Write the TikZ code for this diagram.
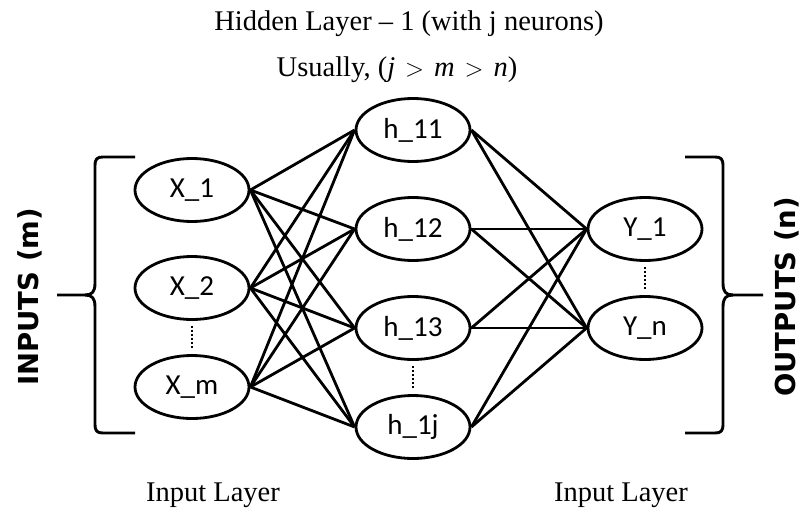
\documentclass[tikz,border=0pt]{standalone}
\usepackage{fontspec}
\setmainfont{Liberation Serif}
\newfontfamily\nodefont{Carlito}
\newfontfamily\bigsans{DejaVu Sans}
\usetikzlibrary{shapes.geometric}
\begin{document}
\begin{tikzpicture}[x=1pt,y=-1pt,
  neuron/.style={ellipse,draw,line width=2.8pt,minimum width=114pt,minimum height=63pt,inner sep=0pt,font=\nodefont\fontsize{29}{31}\selectfont},
  link/.style={line width=2.8pt},
  dotsline/.style={line width=2pt,dash pattern=on 2pt off 2pt,shorten >=5pt,shorten <=5pt},
  bracestyle/.style={line width=2.9pt,line join=round},
  sidelabel/.style={font=\bigsans\bfseries\fontsize{27.5}{30}\selectfont,rotate=90,inner sep=0pt},
  caption/.style={font=\fontsize{28.5}{31}\selectfont}]
\useasboundingbox (0,0) rectangle (802,516);
% input layer
\node[neuron] (x1) at (192,190) {X\_1};
\node[neuron] (x2) at (192,288) {X\_2};
\node[neuron] (xm) at (192,387) {X\_m};
% hidden layer
\node[neuron] (h1) at (413,130) {h\_11};
\node[neuron] (h2) at (413,229) {h\_12};
\node[neuron] (h3) at (413,328) {h\_13};
\node[neuron] (hj) at (413,427) {h\_1j};
% output layer
\node[neuron] (y1) at (645,229) {Y\_1};
\node[neuron] (yn) at (645,328) {Y\_n};
% connections
\foreach \a in {x1,x2,xm}
  \foreach \b in {h1,h2,h3,hj}
    \draw[link] (\a.east) -- (\b.west);
\foreach \a in {h1,h2,h3,hj}
  \foreach \b in {y1,yn}
    \draw[link] (\a.east) -- (\b.west);
% dots
\draw[dotsline] (x2.south) -- (xm.north);
\draw[dotsline] (h3.south) -- (hj.north);
\draw[dotsline] (y1.south) -- (yn.north);
% braces
\draw[bracestyle] (135,157) -- (103,157) .. controls (97,157) and (95,159) .. (95,166)
  -- (95,283) .. controls (95,292) and (92,295) .. (85,295) -- (57,295);
\draw[bracestyle] (135,433) -- (103,433) .. controls (97,433) and (95,431) .. (95,424)
  -- (95,307) .. controls (95,298) and (92,295) .. (85,295);
\draw[bracestyle] (685,157) -- (715,157) .. controls (721,157) and (723,159) .. (723,166)
  -- (723,283) .. controls (723,292) and (726,295) .. (733,295) -- (763,295);
\draw[bracestyle] (685,433) -- (715,433) .. controls (721,433) and (723,431) .. (723,424)
  -- (723,307) .. controls (723,298) and (726,295) .. (733,295);
% labels
\node[sidelabel] (inl) at (30,297) {INPUTS (m)};
\node[sidelabel] (outl) at (787,297) {OUTPUTS (n)};
\node[caption] (t1) at (409,24) {Hidden Layer -- 1 (with j neurons)};
\node[caption] (t2) at (397,70) {Usually, (\textit{j}\hspace{0.35em}$>$\hspace{0.35em}\textit{m}\hspace{0.35em}$>$\hspace{0.35em}\textit{n})};
\node[caption] (b1) at (213,495) {Input Layer};
\node[caption] (b2) at (621,495) {Input Layer};
\end{tikzpicture}
\end{document}
